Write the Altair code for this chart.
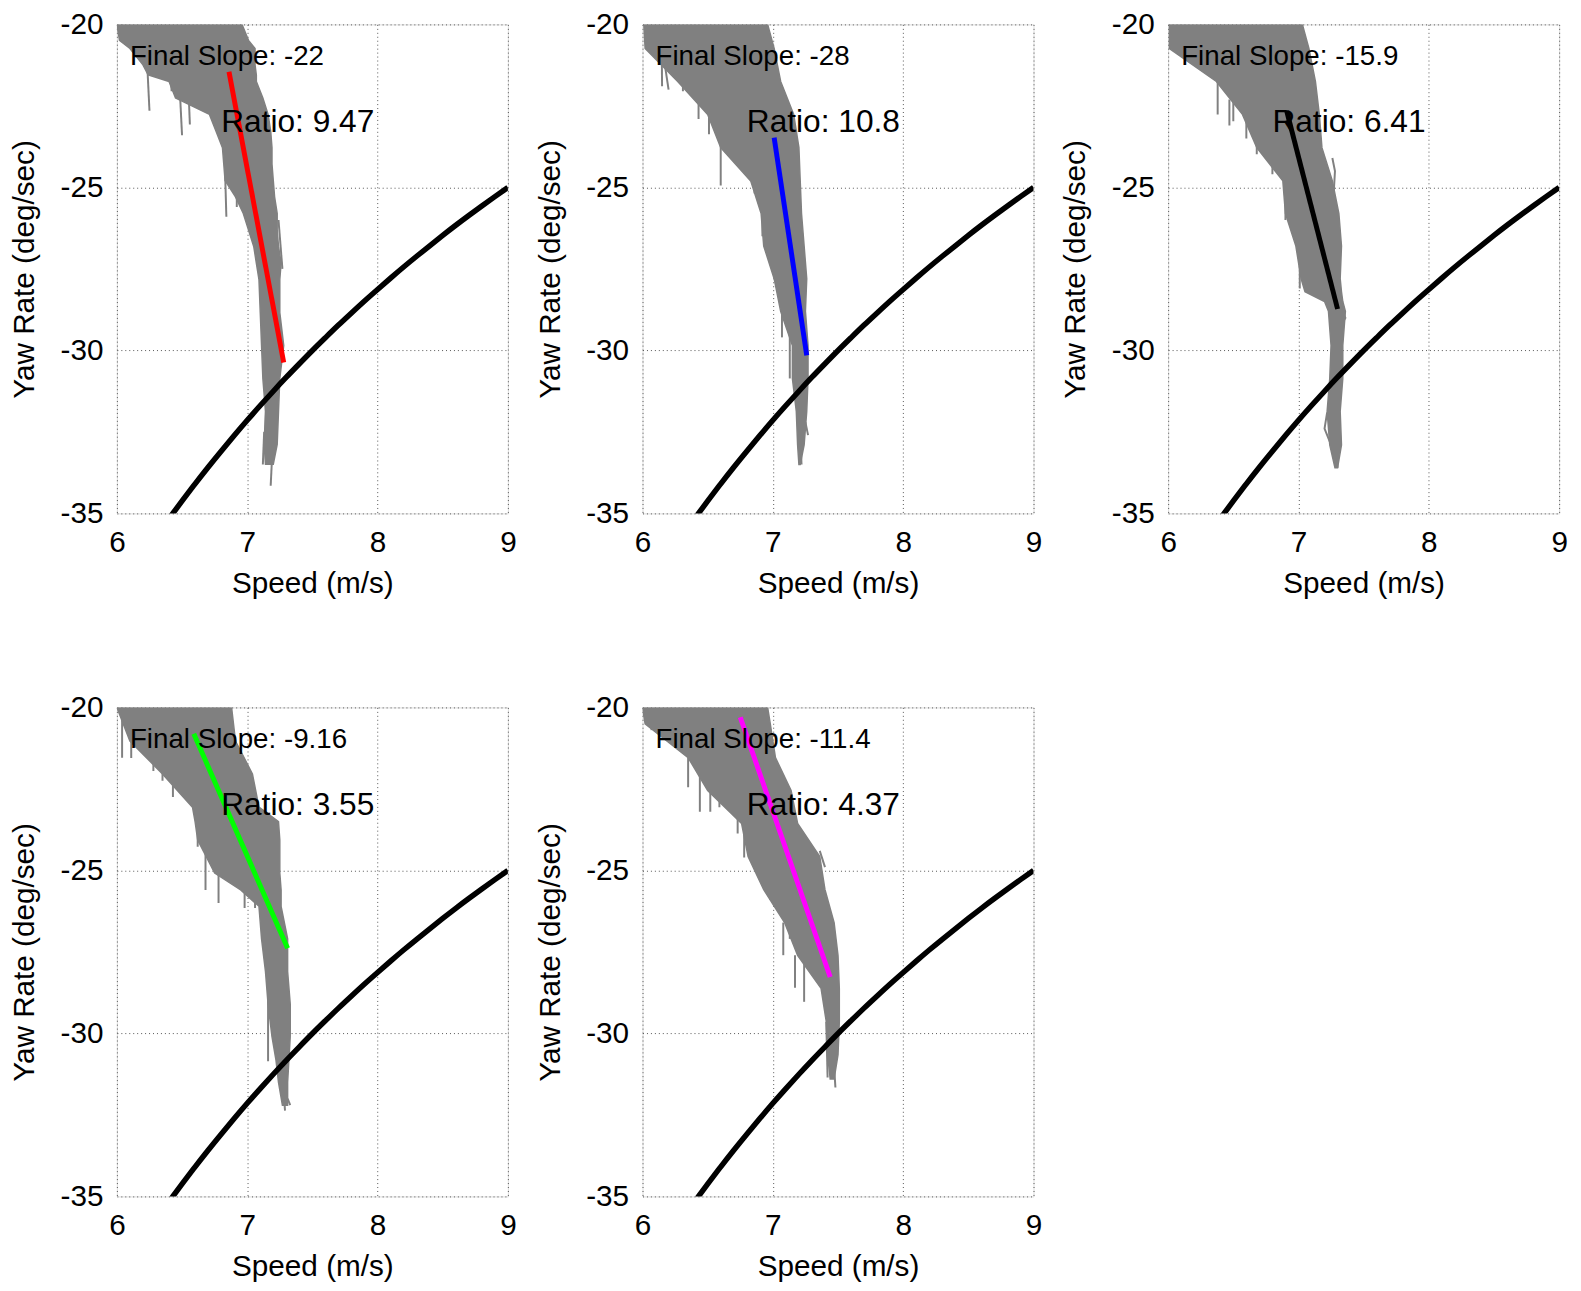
import altair as alt
import pandas as pd

X_TICKS = [6, 7, 8, 9]
Y_TICKS = [-35, -30, -25, -20]

# boundary curve (same in every panel)
CURVE_X = [6.42, 6.5, 6.6, 6.7, 6.8, 6.9, 7.0, 7.1, 7.2, 7.3, 7.4, 7.5, 7.6, 7.7, 7.8, 7.9,
           8.0, 8.1, 8.2, 8.3, 8.4, 8.5, 8.6, 8.7, 8.8, 8.9, 9.0]
CURVE_Y = [-35.05, -34.62, -34.09, -33.58, -33.09, -32.61, -32.14, -31.69, -31.25, -30.82, -30.41,
           -30.0, -29.61, -29.22, -28.85, -28.48, -28.13, -27.78, -27.44, -27.11, -26.79, -26.47,
           -26.16, -25.86, -25.57, -25.28, -25.0]

SLOPE_TEXT = ["Final Slope: -22", "Final Slope: -28", "Final Slope: -15.9",
              "Final Slope: -9.16", "Final Slope: -11.4"]
RATIO_TEXT = ["Ratio: 9.47", "Ratio: 10.8", "Ratio: 6.41", "Ratio: 3.55", "Ratio: 4.37"]
FIT_COLORS = ["#ff0000", "#0000ff", "#000000", "#00ff00", "#ff00ff"]
FIT_X = [[6.86, 7.28], [7.01, 7.26], [6.91, 7.30], [6.59, 7.31], [6.75, 7.44]]
FIT_Y = [[-21.45, -30.37], [-23.47, -30.15], [-22.66, -28.73], [-20.81, -27.39], [-20.30, -28.27]]
TEXT1_XY = [6.1, -21.0]
TEXT2_XY = [6.8, -23.0]

# grey trace band: y levels with left/right edges
BAND1_Y = [-20, -20.49, -20.74, -21.24, -21.55, -21.75, -22.26, -22.76, -23.27, -23.78, -24.28, -24.79,
           -25.29, -25.8, -26.31, -26.81, -27.32, -27.82, -28.84, -29.85, -30.86, -31.87, -32.88, -33.49]
BAND1_L = [6.0, 6.02, 6.10, 6.20, 6.24, 6.40, 6.45, 6.71, 6.76, 6.81, 6.82, 6.83,
           6.91, 6.97, 7.01, 7.05, 7.07, 7.09, 7.10, 7.11, 7.12, 7.14, 7.13, 7.14]
BAND1_R = [6.96, 7.01, 7.06, 7.06, 7.07, 7.07, 7.12, 7.16, 7.18, 7.19, 7.19, 7.20,
           7.21, 7.23, 7.23, 7.24, 7.26, 7.25, 7.25, 7.28, 7.25, 7.24, 7.23, 7.20]

BAND2_Y = [-20, -20.74, -21.75, -22.76, -23.78, -24.8, -25.8, -26.8, -27.8, -28.8, -29.85, -30.86, -31.87, -32.9, -33.5]
BAND2_L = [6.01, 6.02, 6.27, 6.50, 6.60, 6.83, 6.91, 6.93, 7.01, 7.06, 7.15, 7.15, 7.18, 7.19, 7.20]
BAND2_R = [6.96, 7.01, 7.06, 7.16, 7.20, 7.21, 7.22, 7.24, 7.26, 7.25, 7.27, 7.27, 7.26, 7.24, 7.21]

BAND3_Y = [-20, -20.74, -21.75, -22.76, -23.78, -24.8, -25.8, -26.8, -27.8, -28.2, -28.5, -28.8, -29.85, -30.86, -31.87, -32.9, -33.6]
BAND3_L = [6.01, 6.01, 6.37, 6.57, 6.68, 6.88, 6.90, 6.98, 7.02, 7.05, 7.20, 7.23, 7.25, 7.24, 7.22, 7.24, 7.28]
BAND3_R = [7.03, 7.08, 7.13, 7.16, 7.18, 7.26, 7.31, 7.33, 7.32, 7.33, 7.34, 7.36, 7.34, 7.34, 7.32, 7.33, 7.30]

BAND4_Y = [-20, -21.03, -22.04, -23.06, -23.5, -24.07, -25.08, -25.6, -26.1, -27.1, -28.1, -29.1, -30.1, -30.8, -31.5, -32.2]
BAND4_L = [6.0, 6.10, 6.35, 6.58, 6.60, 6.62, 6.75, 6.95, 7.09, 7.11, 7.14, 7.16, 7.19, 7.22, 7.24, 7.27]
BAND4_R = [6.88, 6.91, 7.04, 7.09, 7.24, 7.25, 7.25, 7.26, 7.26, 7.31, 7.31, 7.33, 7.33, 7.32, 7.31, 7.31]

BAND5_Y = [-20, -20.5, -21.54, -22.55, -23.56, -24.57, -25.59, -26.6, -27.61, -28.62, -29.64, -30.65, -31.4]
BAND5_L = [6.0, 6.02, 6.35, 6.50, 6.76, 6.81, 6.93, 7.09, 7.19, 7.37, 7.41, 7.42, 7.44]
BAND5_R = [6.96, 6.98, 7.02, 7.14, 7.19, 7.36, 7.40, 7.47, 7.50, 7.51, 7.51, 7.50, 7.47]

# stray trace spikes hanging off the band
SPIKE1_X = [[6.23, 6.25], [6.48, 6.50], [6.83, 6.84], [7.13, 7.12], [7.20, 7.18], [7.24, 7.27],
            [6.04, 6.04], [6.41, 6.42], [6.55, 6.56], [6.92, 6.92], [7.15, 7.14]]
SPIKE1_Y = [[-21.0, -22.65], [-21.8, -23.4], [-24.5, -25.9], [-32.5, -33.5], [-32.5, -34.15], [-26.0, -27.5],
            [-20.0, -20.5], [-21.45, -22.05], [-22.05, -23.07], [-25.2, -25.6], [-31.0, -32.6]]
SPIKE2_X = [[6.17, 6.20], [6.43, 6.43], [6.60, 6.60], [6.73, 6.73], [7.07, 7.07], [7.25, 7.27],
            [6.147, 6.15], [6.31, 6.31], [6.51, 6.51], [6.70, 6.70], [6.86, 6.86], [6.92, 6.92],
            [7.13, 7.13], [7.21, 7.22]]
SPIKE2_Y = [[-21.2, -22.0], [-22.0, -22.9], [-22.8, -24.94], [-22.6, -23.6], [-27.8, -29.6], [-32.2, -32.6],
            [-20.54, -21.9], [-21.25, -22.05], [-22.56, -23.37], [-23.07, -23.98], [-24.08, -25.19],
            [-25.8, -26.5], [-28.8, -30.86], [-32.5, -33.5]]
SPIKE3_X = [[6.47, 6.47], [6.60, 6.60], [6.80, 6.80], [6.90, 6.90], [7.26, 7.28, 7.27], [7.22, 7.20, 7.24],
            [6.09, 6.09], [6.38, 6.38], [6.50, 6.50], [6.68, 6.68], [7.01, 7.01], [7.33, 7.36, 7.33],
            [7.29, 7.30]]
SPIKE3_Y = [[-22.3, -23.1], [-22.8, -23.5], [-23.8, -24.6], [-25.4, -26.0], [-24.1, -24.5, -25.2], [-31.9, -32.4, -32.8],
            [-20.2, -20.74], [-21.25, -22.76], [-22.05, -22.97], [-22.76, -23.98], [-26.8, -28.1],
            [-28.7, -29.0, -29.2], [-33.0, -33.6]]
SPIKE4_X = [[6.11, 6.11], [6.28, 6.28], [6.43, 6.43], [6.78, 6.78], [6.98, 6.98], [7.16, 7.16],
            [6.04, 6.04], [6.35, 6.35], [6.62, 6.62], [6.68, 6.68], [7.06, 7.06], [7.28, 7.29],
            [7.31, 7.33]]
SPIKE4_Y = [[-21.0, -21.55], [-21.35, -21.95], [-22.05, -22.75], [-25.0, -26.0], [-25.3, -26.15], [-28.1, -30.85],
            [-20.0, -21.54], [-21.55, -22.25], [-22.55, -24.27], [-24.07, -25.6], [-25.6, -26.15],
            [-31.8, -32.37], [-32.0, -32.2]]
SPIKE5_X = [[6.05, 6.07], [6.44, 6.44], [6.52, 6.52], [6.78, 6.78], [6.98, 6.98], [7.13, 7.13], [7.24, 7.24],
            [6.35, 6.35], [6.59, 6.59], [6.73, 6.73], [7.08, 7.08], [7.17, 7.17], [7.41, 7.42],
            [7.47, 7.48], [7.36, 7.40]]
SPIKE5_Y = [[-20.1, -20.7], [-21.5, -23.2], [-22.5, -23.2], [-23.5, -24.6], [-25.0, -25.9], [-26.2, -27.1], [-27.5, -29.03],
            [-21.54, -22.45], [-22.55, -23.06], [-22.85, -23.87], [-26.6, -27.6], [-27.6, -28.6],
            [-29.64, -31.35], [-31.0, -31.66], [-24.4, -24.9]]

BANDS = [(BAND1_Y, BAND1_L, BAND1_R), (BAND2_Y, BAND2_L, BAND2_R), (BAND3_Y, BAND3_L, BAND3_R),
         (BAND4_Y, BAND4_L, BAND4_R), (BAND5_Y, BAND5_L, BAND5_R)]
SPIKES = [(SPIKE1_X, SPIKE1_Y), (SPIKE2_X, SPIKE2_Y), (SPIKE3_X, SPIKE3_Y),
          (SPIKE4_X, SPIKE4_Y), (SPIKE5_X, SPIKE5_Y)]

FONT = "Liberation Sans"
W, H = 395, 494
GREY = "#808080"

SX = alt.Scale(domain=[6, 9], nice=False, zero=False)
SY = alt.Scale(domain=[-35, -20], nice=False, zero=False)
AX = alt.Axis(values=X_TICKS, title="Speed (m/s)", grid=True, gridDash=[1, 3], gridColor="#555555",
              gridWidth=1, domain=False, ticks=False, tickSize=0, labelFontSize=30, labelFont=FONT,
              labelColor="black", labelPadding=14, labelFlush=False, labelExpr="toString(datum.value)",
              titleFontSize=30, titleFont=FONT, titleFontWeight="normal", titleColor="black",
              titleX=W / 2, titleY=71, titleBaseline="middle", titleAlign="center")
AY = alt.Axis(values=Y_TICKS, title="Yaw Rate (deg/sec)", grid=True, gridDash=[1, 3], gridColor="#555555",
              gridWidth=1, domain=False, ticks=False, tickSize=0, labelFontSize=30, labelFont=FONT,
              labelColor="black", labelPadding=14, labelFlush=False, labelExpr="toString(datum.value)",
              titleFontSize=30, titleFont=FONT, titleFontWeight="normal", titleColor="black",
              titleX=-93, titleY=H / 2, titleAngle=270, titleBaseline="middle", titleAlign="center")


def xenc():
    return alt.X("x:Q", scale=SX, axis=AX)


def yenc():
    return alt.Y("y:Q", scale=SY, axis=AY)


def panel(i):
    by, bl, br = BANDS[i]
    band = pd.DataFrame({"y": by, "x": bl, "x2": br})
    sx, sy = SPIKES[i]
    rows = []
    for k, (xs, ys) in enumerate(zip(sx, sy)):
        for j, (a, b) in enumerate(zip(xs, ys)):
            rows.append({"x": a, "y": b, "id": k, "o": j})
    spikes = pd.DataFrame(rows)
    curve = pd.DataFrame({"x": CURVE_X, "y": CURVE_Y, "o": list(range(len(CURVE_X)))})
    fit = pd.DataFrame({"x": FIT_X[i], "y": FIT_Y[i], "o": [0, 1]})
    t1 = pd.DataFrame({"x": [TEXT1_XY[0]], "y": [TEXT1_XY[1]], "t": [SLOPE_TEXT[i]]})
    t2 = pd.DataFrame({"x": [TEXT2_XY[0]], "y": [TEXT2_XY[1]], "t": [RATIO_TEXT[i]]})

    l_band = alt.Chart(band).mark_area(orient="horizontal", color=GREY, clip=True,
                                       stroke=GREY, strokeWidth=1.5).encode(
        x=xenc(), x2="x2:Q", y=yenc())
    l_spk = alt.Chart(spikes).mark_line(color=GREY, strokeWidth=2, clip=True).encode(
        x=xenc(), y=yenc(), detail="id:N", order="o:Q")
    l_curve = alt.Chart(curve).mark_line(color="black", strokeWidth=5.5, clip=True,
                                         interpolate="basis").encode(
        x=xenc(), y=yenc(), order="o:Q")
    l_fit = alt.Chart(fit).mark_line(color=FIT_COLORS[i], strokeWidth=5, clip=True).encode(
        x=xenc(), y=yenc(), order="o:Q")
    l_t1 = alt.Chart(t1).mark_text(align="left", baseline="middle", fontSize=28, font=FONT,
                                   color="black").encode(x=xenc(), y=yenc(), text="t:N")
    l_t2 = alt.Chart(t2).mark_text(align="left", baseline="middle", fontSize=32, font=FONT,
                                   color="black").encode(x=xenc(), y=yenc(), text="t:N")
    return alt.layer(l_band, l_spk, l_curve, l_fit, l_t1, l_t2).properties(width=W, height=H)


row1 = alt.hconcat(panel(0), panel(1), panel(2), spacing=18)
row2 = alt.hconcat(panel(3), panel(4), spacing=18)
chart = alt.vconcat(row1, row2, spacing=93).properties(
    padding={"left": 1, "top": -6, "right": 5, "bottom": 5}
).configure_view(stroke="black", strokeWidth=1.2).configure(background="white")

chart.save("out.html", embed_options={"renderer": "svg", "actions": False})
